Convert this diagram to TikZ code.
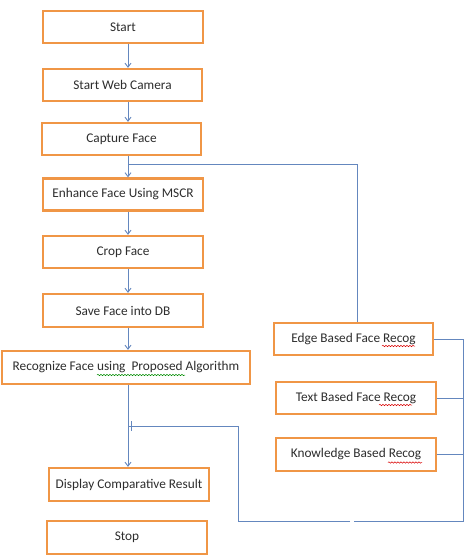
\documentclass[tikz,border=0pt]{standalone}
\usepackage{fontspec}
\setmainfont{Carlito}
\usetikzlibrary{arrows.meta,decorations.pathmorphing}
\definecolor{boxorange}{RGB}{240,150,70}
\definecolor{lineblue}{RGB}{100,135,190}
\definecolor{txtgrey}{RGB}{45,45,45}
\tikzset{
  box/.style={draw=boxorange, line width=2.2pt, fill=white, rectangle,
    minimum height=32pt, inner sep=0pt, text=txtgrey,
    font=\fontsize{13.3}{15}\selectfont},
  conn/.style={draw=lineblue, line width=0.9pt},
  arr/.style={conn, -{Straight Barb[length=4pt,width=6pt]}},
  wavy/.style={line width=0.5pt, decorate, decoration={snake, amplitude=0.7pt, segment length=3pt}}
}
\begin{document}
\begin{tikzpicture}[x=1pt,y=-1pt]
\useasboundingbox (0,0) rectangle (474,560);
\node[box, minimum width=160pt] (start) at (123,27) {\raisebox{-2pt}{Start}};
\node[box, minimum width=159pt] (web) at (122.5,85) {\raisebox{-1.5pt}{Start Web Camera}};
\node[box, minimum width=159pt] (cap) at (121.5,139) {\raisebox{-2pt}{Capture Face}};
\node[box, minimum width=160pt] (enh) at (123,194.5) {\raisebox{-1pt}{Enhance Face Using MSCR}};
\node[box, minimum width=160pt] (crop) at (123,252) {\raisebox{-1pt}{Crop Face}};
\node[box, minimum width=160pt, minimum height=33pt] (save) at (123,310.5) {Save Face into DB};
\node[box, minimum width=248pt, minimum height=33pt] (rec) at (126,367.5) {Recognize Face using~ Proposed Algorithm};
\node[box, minimum width=160pt, minimum height=33pt] (disp) at (129,484.5) {Display Comparative Result};
\node[box, minimum width=160pt, minimum height=33pt] (stop) at (127,537.5) {\raisebox{-2pt}{Stop}};
\node[box, minimum width=159pt] (edge) at (353.5,339) {Edge Based Face Recog};
\node[box, minimum width=160pt] (text) at (356,398) {Text Based Face Recog};
\node[box, minimum width=160pt, minimum height=33pt] (know) at (356,454.5) {Knowledge Based Recog};
% spell-check squiggles
\draw[wavy, green!55!black] (97,375) -- (185,375);
\draw[wavy, red!85!black] (382,346) -- (415,346);
\draw[wavy, red!85!black] (379,405) -- (412,405);
\draw[wavy, red!85!black] (388,462.5) -- (422,462.5);
% helper coordinates
\coordinate (mx) at (128,0);
\coordinate (bx) at (463,0);
\coordinate (j1) at (128,164);
\coordinate (b1) at (463,521);
\coordinate (g1) at (354,521);
\coordinate (g2) at (350,521);
\coordinate (b2) at (238,521);
\coordinate (b3) at (238,426);
\coordinate (j2) at (128,426);
% main flow
\draw[arr] (start.south -| mx) -- (web.north -| mx);
\draw[arr] (web.south -| mx) -- (cap.north -| mx);
\draw[arr] (cap.south -| mx) -- (enh.north -| mx);
\draw[arr] (enh.south -| mx) -- (crop.north -| mx);
\draw[arr] (crop.south -| mx) -- (save.north -| mx);
\draw[arr] (save.south -| mx) -- (rec.north -| mx);
\draw[arr] (rec.south -| mx) -- (disp.north -| mx);
% feedback from edge
\draw[conn] ([xshift=3.5pt]edge.north) |- (j1);
% right bus
\draw[conn] (edge.east) -- (edge.east -| bx) -- (b1) -- (g1);
\draw[conn] (text.east) -- (text.east -| bx);
\draw[conn] (know.east) -- (know.east -| bx);
\draw[conn] (g2) -- (b2) -- (b3) -- (j2);
\draw[conn] (131,421) -- (131,431);
\end{tikzpicture}
\end{document}
